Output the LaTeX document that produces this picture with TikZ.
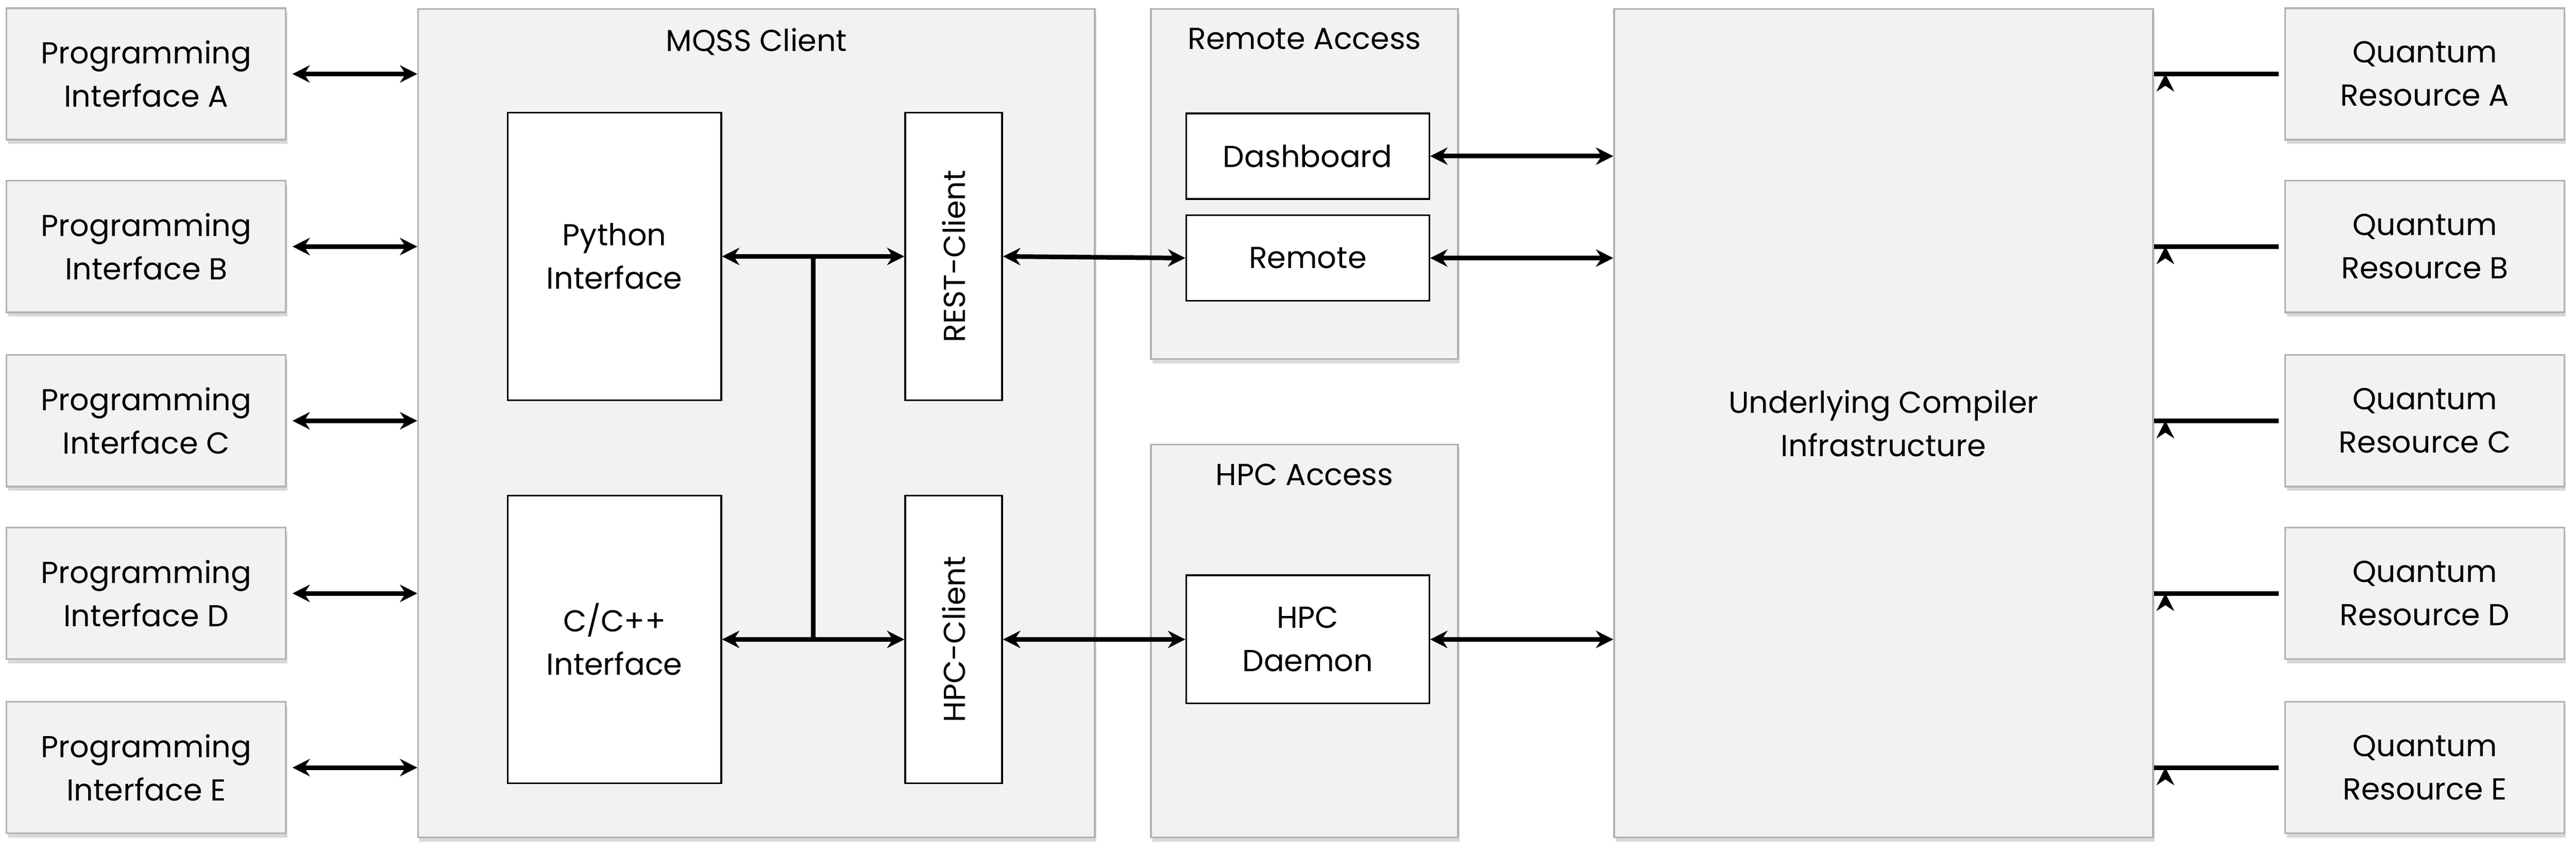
\documentclass[tikz,border=0pt]{standalone}
\usepackage{fontspec}
\setmainfont{Poppins}
\usetikzlibrary{arrows.meta, shadows}

\begin{document}
\begin{tikzpicture}[
    x=0.02cm, y=-0.02cm,
    font=\fontsize{10.5}{15}\selectfont,
    outer/.style={draw=black!30, fill=black!5, line width=0.6pt, drop shadow={opacity=0.3, shadow xshift=0.5pt, shadow yshift=-1.5pt}},
    ext/.style={outer, minimum width=3.4cm, minimum height=1.6cm, align=center, inner sep=0pt},
    inner/.style={draw=black, fill=white, line width=0.6pt, align=center, inner sep=0pt},
    link/.style={line width=1.6pt, {Stealth[length=6pt,width=6pt]}-{Stealth[length=6pt,width=6pt]}},
    bus/.style={line width=1.6pt}
]
   \useasboundingbox (0,0) rectangle (1568,517);

   % Containers
   \node[outer, minimum width=8.24cm, minimum height=10.08cm, anchor=north west] (mqss) at (254,5) {};
   \node[anchor=north] at (mqss.north) [yshift=-0.12cm] {MQSS Client};
   \node[outer, minimum width=3.74cm, minimum height=4.26cm, anchor=north west] (remote) at (700,5) {};
   \node[anchor=north] at (remote.north) [yshift=-0.12cm] {Remote Access};
   \node[outer, minimum width=3.74cm, minimum height=4.78cm, anchor=north west] (hpc) at (700,270) {};
   \node[anchor=north] at (hpc.north) [yshift=-0.12cm] {HPC Access};
   \node[outer, minimum width=6.56cm, minimum height=10.08cm, anchor=north west, align=center] (uci) at (982,5) {Underlying Compiler\\Infrastructure};

   % Programming interfaces and quantum resources
   \foreach \l/\y in {A/45, B/150, C/256, D/361, E/467} {
     \node[ext] (pi\l) at (89,\y) {Programming\\Interface \l};
     \node[ext] (qr\l) at (1476,\y) {Quantum\\Resource \l};
   }

   % Inner blocks
   \node[inner, minimum width=2.6cm, minimum height=3.5cm] (py) at (374,156) {Python\\Interface};
   \node[inner, minimum width=2.6cm, minimum height=3.5cm] (cpp) at (374,389) {C/C++\\Interface};
   \node[inner, minimum width=1.18cm, minimum height=3.5cm] (rest) at (580.5,156) {\rotatebox{90}{REST-Client}};
   \node[inner, minimum width=1.18cm, minimum height=3.5cm] (hpcc) at (580.5,389) {\rotatebox{90}{HPC-Client}};
   \node[inner, minimum width=2.96cm, minimum height=1.04cm] (dash) at (796,95) {Dashboard};
   \node[inner, minimum width=2.96cm, minimum height=1.04cm] (rem) at (796,157) {Remote};
   \node[inner, minimum width=2.96cm, minimum height=1.56cm, align=center] (daemon) at (796,389) {HPC\\Daemon};

   % Connections
   \foreach \l in {A, B, C, D, E} {
     \draw[link] ([xshift=2pt]pi\l.east) -- (pi\l.east -| mqss.west);
     \draw[link] ([xshift=-2pt]qr\l.west) -- (qr\l.west -| uci.east) ++(4pt,0);
   }
   \coordinate (bt) at (495,156);
   \coordinate (bb) at (495,389);
   \draw[bus] (bt) -- (bb);
   \draw[link] (py.east) -- (rest.west);
   \draw[link] (cpp.east) -- (hpcc.west);
   \draw[link] (rest.east) -- (rem.west);
   \draw[link] (hpcc.east) -- (daemon.west);
   \draw[link] (dash.east) -- (dash.east -| uci.west);
   \draw[link] (rem.east) -- (rem.east -| uci.west);
   \draw[link] (daemon.east) -- (daemon.east -| uci.west);
\end{tikzpicture}
\end{document}
